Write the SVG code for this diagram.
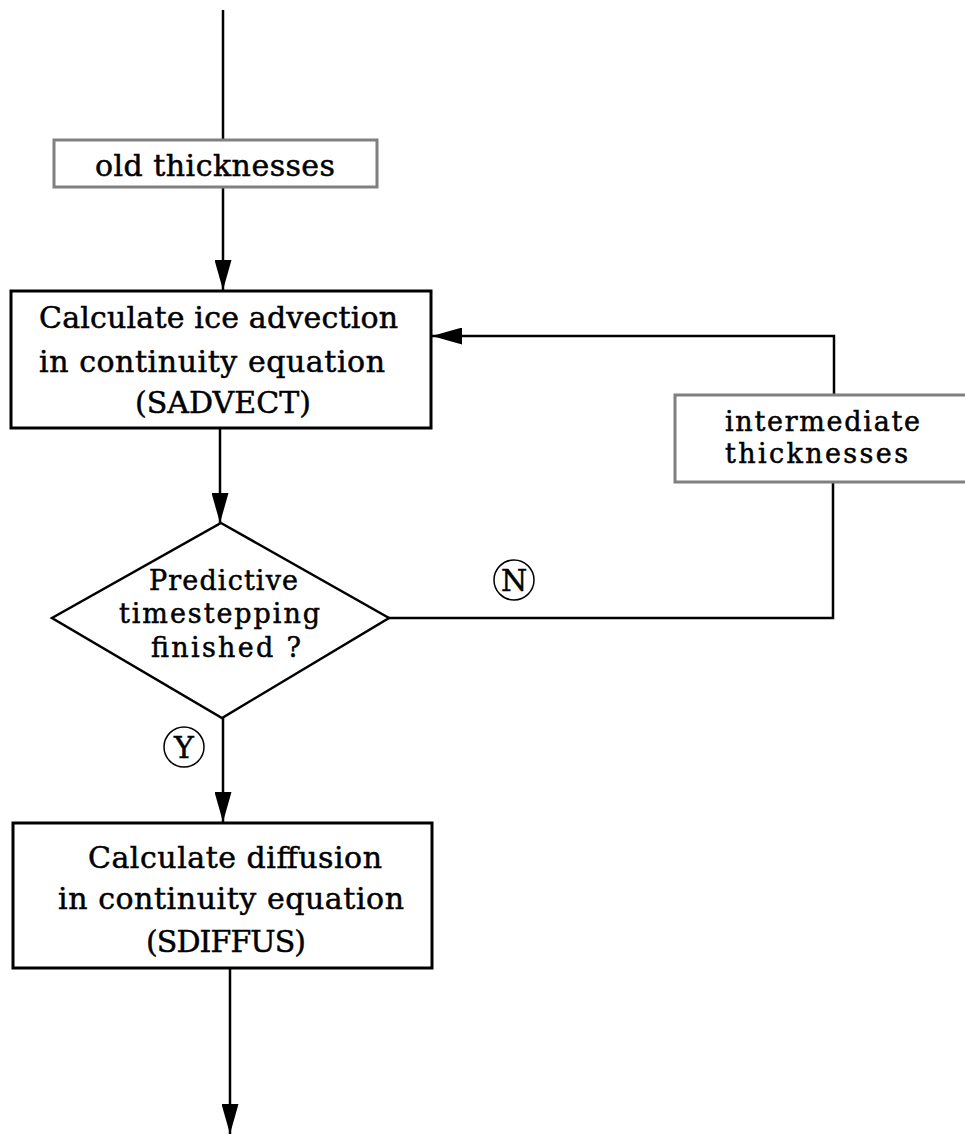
<svg xmlns="http://www.w3.org/2000/svg" width="965" height="1135" viewBox="0 0 965 1135">
<style>
.t{font-family:"DejaVu Serif","Liberation Serif",serif;font-size:30px;fill:#000;stroke:#000;stroke-width:0.5}
.s{font-size:27px}
.box{fill:#fff;stroke:#000;stroke-width:3}
.gbox{fill:#fff;stroke:#808080;stroke-width:3}
.ln{fill:none;stroke:#000;stroke-width:2.5}
.circ{fill:none;stroke:#000;stroke-width:1.5}
</style>
<defs>
<marker id="ah" markerUnits="userSpaceOnUse" markerWidth="30" markerHeight="17" refX="30" refY="8.5" orient="auto">
<path d="M0,0 L30,8.5 L0,17 z" fill="#000"/>
</marker>
</defs>
<rect width="965" height="1135" fill="#fff"/>
<g id="connectors">
<line class="ln" x1="223" y1="10" x2="223" y2="140"/>
<line class="ln" x1="223" y1="187" x2="223" y2="290" marker-end="url(#ah)"/>
<line class="ln" x1="220" y1="428" x2="220" y2="523" marker-end="url(#ah)"/>
<line class="ln" x1="223" y1="718" x2="223" y2="822" marker-end="url(#ah)"/>
<line class="ln" x1="230" y1="968" x2="230" y2="1134" marker-end="url(#ah)"/>
<polyline class="ln" points="388,618 833,618 833,483"/>
<polyline class="ln" points="834,395 834,336 432,336" marker-end="url(#ah)"/>
</g>
<g id="old-thicknesses">
<rect class="gbox" x="54" y="140" width="323" height="47"/>
<text class="t" x="95" y="176" textLength="240">old thicknesses</text>
</g>
<g id="sadvect">
<rect class="box" x="11" y="291" width="420" height="137"/>
<text class="t" x="39" y="328" textLength="359">Calculate ice advection</text>
<text class="t" x="39" y="372" textLength="346">in continuity equation</text>
<text class="t" x="135" y="413" textLength="176">(SADVECT)</text>
</g>
<g id="intermediate-thicknesses">
<rect class="gbox" x="675" y="395" width="300" height="87"/>
<text class="t s" x="725" y="431" textLength="195">intermediate</text>
<text class="t s" x="725" y="463" textLength="183">thicknesses</text>
</g>
<g id="decision">
<polygon class="ln" points="221,523 389,618 222,718 52,618" fill="#fff"/>
<text class="t s" x="149" y="590" textLength="149">Predictive</text>
<text class="t s" x="119" y="623" textLength="201">timestepping</text>
<text class="t s" x="151" y="657" textLength="150">finished ?</text>
</g>
<g id="label-n">
<circle class="circ" cx="514" cy="580" r="20"/>
<text class="t" x="514" y="591" text-anchor="middle">N</text>
</g>
<g id="label-y">
<circle class="circ" cx="184" cy="747" r="20"/>
<text class="t" x="184" y="758" text-anchor="middle">Y</text>
</g>
<g id="sdiffus">
<rect class="box" x="13" y="823" width="419" height="145"/>
<text class="t" x="88" y="868" textLength="294">Calculate diffusion</text>
<text class="t" x="58" y="909" textLength="346">in continuity equation</text>
<text class="t" x="146" y="952" textLength="160">(SDIFFUS)</text>
</g>
</svg>
